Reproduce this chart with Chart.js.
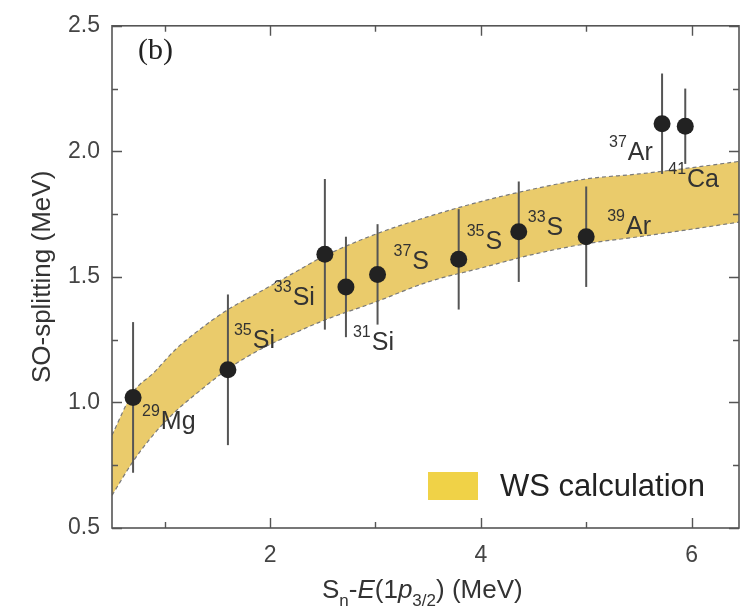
<!DOCTYPE html>
<html>
<head>
<meta charset="utf-8">
<script src="https://cdn.jsdelivr.net/npm/chart.js@4/dist/chart.umd.min.js"></script>
<style>
  html, body { margin: 0; padding: 0; background: #fff; }
  #wrap { position: relative; width: 754px; height: 608px; }
</style>
</head>
<body>
<div id="wrap"><canvas id="c" width="754" height="608"></canvas></div>
<script>
// Measured nuclei: mass number, element, Sn - E(1p3/2) and SO splitting with its uncertainty (MeV)
const massNumbers = ['29', '35', '33', '31', '37', '35', '33', '39', '37', '41'];
const elements    = ['Mg', 'Si', 'Si', 'Si', 'S', 'S', 'S', 'Ar', 'Ar', 'Ca'];
const energyGap   = [0.70, 1.60, 2.52, 2.72, 3.02, 3.79, 4.36, 5.00, 5.72, 5.94];
const soSplitting = [1.02, 1.13, 1.59, 1.46, 1.51, 1.57, 1.68, 1.66, 2.11, 2.10];
const soError     = [0.30, 0.30, 0.30, 0.20, 0.20, 0.20, 0.20, 0.20, 0.20, 0.15];

// Woods-Saxon calculation band: lower and upper edges
const bandEnergy = [0.5, 0.7, 0.9, 1.1, 1.3, 1.6, 1.9, 2.2, 2.5, 3.0, 3.5, 4.0, 4.5, 5.0, 5.5, 6.0, 6.45];
const bandLower  = [0.63, 0.765, 0.875, 0.963, 1.035, 1.133, 1.21, 1.27, 1.325, 1.40, 1.48, 1.535, 1.59, 1.632, 1.66, 1.69, 1.718];
const bandUpper  = [0.87, 1.04, 1.12, 1.21, 1.28, 1.37, 1.44, 1.51, 1.58, 1.67, 1.74, 1.80, 1.85, 1.89, 1.91, 1.935, 1.96];

// Axis ticks
const xMajorTicks = [2, 4, 6];
const xMinorTicks = [1, 3, 5];
const yMajorTicks = [0.5, 1.0, 1.5, 2.0, 2.5];
const yMinorTicks = [0.75, 1.25, 1.75, 2.25];

const SANS = '"Liberation Sans", Arial, sans-serif';
const TEXT = '#333';
const AXIS = '#555';
const BAND_FILL = '#EACB6B';
const SWATCH = '#F0D247';

// Where each nucleus label sits relative to its marker (px): superscript start, element baseline
const labelOffsets = [[9, 32], [6, -22], [-51, 51], [7, 63], [16, -5], [8, -10], [9, 3], [21, -3], [-53, 36], [-17, 61]];

const pts = (xs, ys) => xs.map((x, i) => ({ x, y: ys[i] }));

// Vertical error bars, drawn just before the markers
const errorBars = {
  id: 'errorBars',
  beforeDatasetDraw(chart, args) {
    if (args.index !== 0) return;
    const { ctx, scales: { x, y } } = chart;
    ctx.save();
    ctx.strokeStyle = '#555';
    ctx.lineWidth = 2;
    energyGap.forEach((e, i) => {
      const px = x.getPixelForValue(e);
      ctx.beginPath();
      ctx.moveTo(px, y.getPixelForValue(soSplitting[i] - soError[i]));
      ctx.lineTo(px, y.getPixelForValue(soSplitting[i] + soError[i]));
      ctx.stroke();
    });
    ctx.restore();
  }
};

// Frame with inward ticks on all four sides, titles, nucleus labels and legend
const decorations = {
  id: 'decorations',
  afterDraw(chart) {
    const { ctx, chartArea: a, scales: { x, y } } = chart;
    ctx.save();
    ctx.strokeStyle = AXIS;
    ctx.lineWidth = 1.6;
    ctx.strokeRect(a.left, a.top, a.right - a.left, a.bottom - a.top);
    ctx.lineWidth = 1.4;
    const xt = (v, len) => {
      const p = Math.round(x.getPixelForValue(v)) + 0.5;
      ctx.beginPath();
      ctx.moveTo(p, a.bottom); ctx.lineTo(p, a.bottom - len);
      ctx.moveTo(p, a.top); ctx.lineTo(p, a.top + len);
      ctx.stroke();
    };
    const yt = (v, len) => {
      const p = Math.round(y.getPixelForValue(v)) + 0.5;
      ctx.beginPath();
      ctx.moveTo(a.left, p); ctx.lineTo(a.left + len, p);
      ctx.moveTo(a.right, p); ctx.lineTo(a.right - len, p);
      ctx.stroke();
    };
    xMajorTicks.forEach(v => xt(v, 10));
    xMinorTicks.forEach(v => xt(v, 6));
    yMajorTicks.forEach(v => yt(v, 10));
    yMinorTicks.forEach(v => yt(v, 6));

    // Nucleus labels with superscript mass numbers
    ctx.fillStyle = TEXT;
    ctx.textBaseline = 'alphabetic';
    ctx.textAlign = 'left';
    energyGap.forEach((e, i) => {
      const px = x.getPixelForValue(e) + labelOffsets[i][0];
      const py = y.getPixelForValue(soSplitting[i]) + labelOffsets[i][1];
      ctx.font = '16px ' + SANS;
      ctx.fillText(massNumbers[i], px, py - 13);
      const w = ctx.measureText(massNumbers[i]).width;
      ctx.font = '25px ' + SANS;
      ctx.fillText(elements[i], px + w + 1, py);
    });

    // Panel tag
    ctx.font = '30px "Liberation Serif", "Times New Roman", serif';
    ctx.fillStyle = '#222';
    ctx.fillText('(b)', 138, 59);

    // Y axis title
    ctx.save();
    ctx.translate(50, (a.top + a.bottom) / 2);
    ctx.rotate(-Math.PI / 2);
    ctx.textAlign = 'center';
    ctx.font = '26px ' + SANS;
    ctx.fillStyle = TEXT;
    ctx.fillText('SO-splitting (MeV)', 0, 0);
    ctx.restore();

    // X axis title with subscripts and italics
    const parts = [
      ['S', '26px ', 0], ['n', '17px ', 8], ['-', '26px ', 0], ['E', 'italic 26px ', 0],
      ['(1', '26px ', 0], ['p', 'italic 26px ', 0], ['3/2', '17px ', 8], [') (MeV)', '26px ', 0]
    ];
    let cx = 322;
    const base = 598;
    ctx.fillStyle = TEXT;
    parts.forEach(([t, f, dy]) => {
      ctx.font = f + SANS;
      ctx.fillText(t, cx, base + dy);
      cx += ctx.measureText(t).width;
    });

    // Legend
    ctx.fillStyle = SWATCH;
    ctx.fillRect(428, 472, 50, 28);
    ctx.fillStyle = '#222';
    ctx.font = '31px ' + SANS;
    ctx.textBaseline = 'middle';
    ctx.fillText(chart.data.datasets[1].label, 500, 487);
    ctx.restore();
  }
};

new Chart(document.getElementById('c'), {
  type: 'scatter',
  data: {
    datasets: [
      {
        label: 'Experiment',
        data: pts(energyGap, soSplitting),
        pointRadius: 8.5,
        pointHoverRadius: 8.5,
        backgroundColor: '#222',
        borderColor: '#222',
        borderWidth: 0
      },
      {
        type: 'line',
        label: 'WS calculation',
        data: pts(bandEnergy, bandUpper),
        borderColor: '#7a7a7a',
        borderWidth: 1.2,
        borderDash: [4, 3],
        pointRadius: 0,
        cubicInterpolationMode: 'monotone',
        backgroundColor: BAND_FILL,
        fill: '+1'
      },
      {
        type: 'line',
        label: 'WS calculation (lower)',
        data: pts(bandEnergy, bandLower),
        borderColor: '#7a7a7a',
        borderWidth: 1.2,
        borderDash: [4, 3],
        pointRadius: 0,
        cubicInterpolationMode: 'monotone',
        fill: false
      }
    ]
  },
  options: {
    responsive: false,
    animation: false,
    devicePixelRatio: 1,
    layout: { padding: { top: 19, right: 15, left: 0, bottom: 0 } },
    plugins: {
      legend: { display: false },
      tooltip: { enabled: false },
      filler: { drawTime: 'beforeDatasetsDraw' }
    },
    scales: {
      x: {
        type: 'linear',
        min: 0.5,
        max: 6.45,
        afterFit(s) { s.height = 80; },
        afterBuildTicks(s) { s.ticks = xMajorTicks.map(v => ({ value: v })); },
        grid: { display: false, drawTicks: false },
        border: { display: false },
        ticks: { font: { size: 23, family: SANS }, color: '#444', padding: 14, maxRotation: 0 }
      },
      y: {
        type: 'linear',
        min: 0.5,
        max: 2.5,
        afterFit(s) { s.width = 112; },
        afterBuildTicks(s) { s.ticks = yMajorTicks.map(v => ({ value: v })); },
        grid: { display: false, drawTicks: false },
        border: { display: false },
        ticks: { font: { size: 23, family: SANS }, color: '#444', padding: 12, callback: v => v.toFixed(1) }
      }
    }
  },
  plugins: [errorBars, decorations]
});
</script>
</body>
</html>
